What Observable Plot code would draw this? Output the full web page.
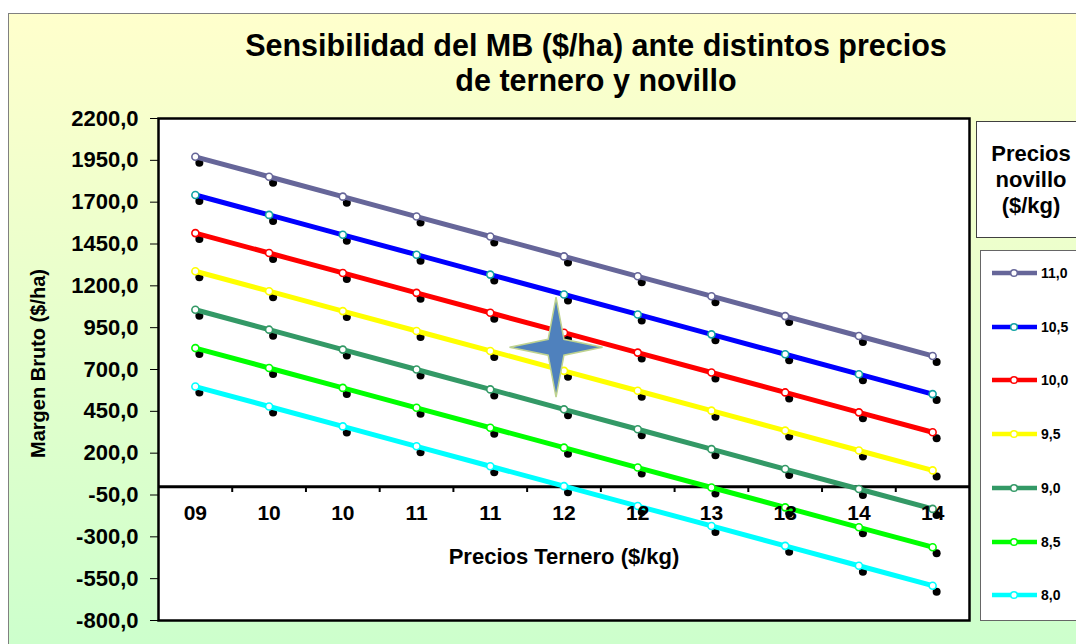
<!DOCTYPE html>
<html>
<head>
<meta charset="utf-8">
<script src="https://cdn.jsdelivr.net/npm/d3@7"></script>
<script src="https://cdn.jsdelivr.net/npm/@observablehq/plot@0.6"></script>
<style>
  body { margin: 0; background: #ffffff; font-family: "Liberation Sans", Arial, sans-serif; }
  #wrap { position: relative; width: 1076px; height: 644px; overflow: hidden; background: #ffffff; }
  #bg { position: absolute; left: 8px; top: 13px; width: 1100px; height: 640px; border-left: 1px solid #808080; border-top: 1px solid #808080;
        background: linear-gradient(to bottom, #ffffcc 0%, #ccffcc 100%); }
  #chart { position: absolute; left: 0; top: 0; }
  #chart svg { background: transparent !important; }
  #chart svg g[aria-label*="y-axis"] line { stroke-width: 2px; }
  #title { position: absolute; left: 96px; top: 28px; width: 1000px; text-align: center; font-weight: bold; font-size: 30.5px; line-height: 35px; color: #000; }
  #legtitle { position: absolute; left: 976px; top: 121px; width: 108px; height: 115px; background: #fff; border: 1px solid #404040;
              display: flex; align-items: center; justify-content: center; text-align: center; font-weight: bold; font-size: 22px; line-height: 26px; }
  #legend { position: absolute; left: 980px; top: 250px; width: 110px; height: 369px; background: #fff; border: 1px solid #666; }
  .lrow { position: absolute; left: 0; height: 14px; width: 110px; }
  .lrow svg { position: absolute; left: 10px; top: 0; }
  .lrow span { position: absolute; left: 60px; top: -1px; font-weight: bold; font-size: 14px; line-height: 16px; }
</style>
</head>
<body>
<div id="wrap">
  <div id="bg"></div>
  <div id="chart"></div>
  <div id="title">Sensibilidad del MB ($/ha) ante distintos precios<br>de ternero y novillo</div>
  <div id="legtitle">Precios<br>novillo<br>($/kg)</div>
  <div id="legend"></div>
</div>
<script>
// ---- data ----
const terneroPrecios = [9, 9.5, 10, 10.5, 11, 11.5, 12, 12.5, 13, 13.5, 14];
const xTickLabels = ["09", "10", "10", "11", "11", "12", "12", "13", "13", "14", "14"];
const xTickMarks = [9.25, 9.75, 10.25, 10.75, 11.25, 11.75, 12.25, 12.75, 13.25, 13.75];
const yTicks = [-800, -550, -300, -50, 200, 450, 700, 950, 1200, 1450, 1700, 1950, 2200];
const novilloLabels = ["11,0", "10,5", "10,0", "9,5", "9,0", "8,5", "8,0"];

const mb_11_0 = [1971, 1852, 1733, 1614, 1495, 1376, 1257, 1138, 1019, 900, 781];
const mb_10_5 = [1743, 1624, 1505, 1386, 1267, 1148, 1029, 910, 791, 672, 553];
const mb_10_0 = [1515, 1396, 1277, 1158, 1039, 920, 801, 682, 563, 444, 325];
const mb_9_5  = [1287, 1168, 1049, 930, 811, 692, 573, 454, 335, 216, 97];
const mb_9_0  = [1057, 938, 819, 700, 581, 462, 343, 224, 105, -14, -133];
const mb_8_5  = [828, 709, 590, 471, 352, 233, 114, -5, -124, -243, -362];
const mb_8_0  = [598, 479, 360, 241, 122, 3, -116, -235, -354, -473, -592];

const lineColors   = ["#666699", "#0000ff", "#ff0000", "#ffff00", "#339966", "#00ff00", "#00ffff"];
const markerColors = ["#666699", "#11a3a3", "#ff0000", "#ffff00", "#339966", "#00ff00", "#00ffff"];

const starPoint = [{x: 11.446, y: 833}];

// ---- build ----
const series = [mb_11_0, mb_10_5, mb_10_0, mb_9_5, mb_9_0, mb_8_5, mb_8_0];
const rows = series.map((vals, s) => vals.map((v, i) => ({t: terneroPrecios[i], mb: v, s})));

const fmtY = d => d.toFixed(1).replace(".", ",");

const star4 = {
  draw(ctx, size) {
    const r = Math.sqrt(size / Math.PI);
    const ry = r * 1.075, ri = r * 0.17;
    ctx.moveTo(0, -ry);
    ctx.lineTo(ri, -ri);
    ctx.lineTo(r, 0);
    ctx.lineTo(ri, ri);
    ctx.lineTo(0, ry);
    ctx.lineTo(-ri, ri);
    ctx.lineTo(-r, 0);
    ctx.lineTo(-ri, -ri);
    ctx.closePath();
  }
};

const FONT = '"Liberation Sans", Arial, sans-serif';

const plot = Plot.plot({
  width: 1076,
  height: 644,
  marginLeft: 158,
  marginRight: 107,
  marginTop: 118,
  marginBottom: 24,
  style: {background: "transparent", fontFamily: FONT, fontSize: "22px", fontWeight: "bold", color: "#000"},
  x: {type: "linear", domain: [8.75, 14.25], axis: null},
  y: {domain: [-800, 2200], ticks: yTicks, tickFormat: fmtY, tickSize: 8, tickPadding: 12, label: null},
  marks: [
    Plot.frame({fill: "white"}),
    Plot.ruleY([0], {stroke: "black", strokeWidth: 3}),
    Plot.ruleX(xTickMarks, {x: d => d, y1: () => 0, y2: () => -35, stroke: "black", strokeWidth: 2}),
    ...rows.map(r => Plot.dot(r, {x: "t", y: "mb", r: 4, fill: "black", dx: 4, dy: 6})),
    ...rows.map((r, s) => Plot.line(r, {x: "t", y: "mb", stroke: lineColors[s], strokeWidth: 5})),
    ...rows.map((r, s) => Plot.dot(r, {x: "t", y: "mb", r: 3.5, fill: "white", stroke: markerColors[s], strokeWidth: 1.6})),
    Plot.text(terneroPrecios, {x: d => d, y: () => 0, text: (d, i) => xTickLabels[i], dy: 27, fontSize: 21, fontWeight: "bold", fill: "black"}),
    Plot.dot(starPoint, {x: "x", y: "y", r: 46.5, symbol: star4, fill: "#4f81bd", stroke: "#bfd38f", strokeWidth: 1.5}),
    Plot.text(["Precios Ternero ($/kg)"], {frameAnchor: "bottom", text: d => d, dy: -57, fontSize: 22, fontWeight: "bold", fill: "black"}),
    Plot.text(["Margen Bruto ($/ha)"], {frameAnchor: "left", textAnchor: "middle", text: d => d, dx: -120, dy: -6, rotate: -90, fontSize: 20, fontWeight: "bold", fill: "black"}),
    Plot.frame({stroke: "black", strokeWidth: 2.5})
  ]
});
document.getElementById("chart").appendChild(plot);

// ---- legend ----
const leg = document.getElementById("legend");
novilloLabels.forEach((lab, s) => {
  const row = document.createElement("div");
  row.className = "lrow";
  row.style.top = (15 + 53.7 * s) + "px";
  row.innerHTML =
    `<svg width="50" height="14"><line x1="1" x2="46" y1="7" y2="7" stroke="${lineColors[s]}" stroke-width="4.5"/>` +
    `<circle cx="23" cy="7" r="3.3" fill="white" stroke="${markerColors[s]}" stroke-width="1.5"/></svg>` +
    `<span>${lab}</span>`;
  leg.appendChild(row);
});
</script>
</body>
</html>
